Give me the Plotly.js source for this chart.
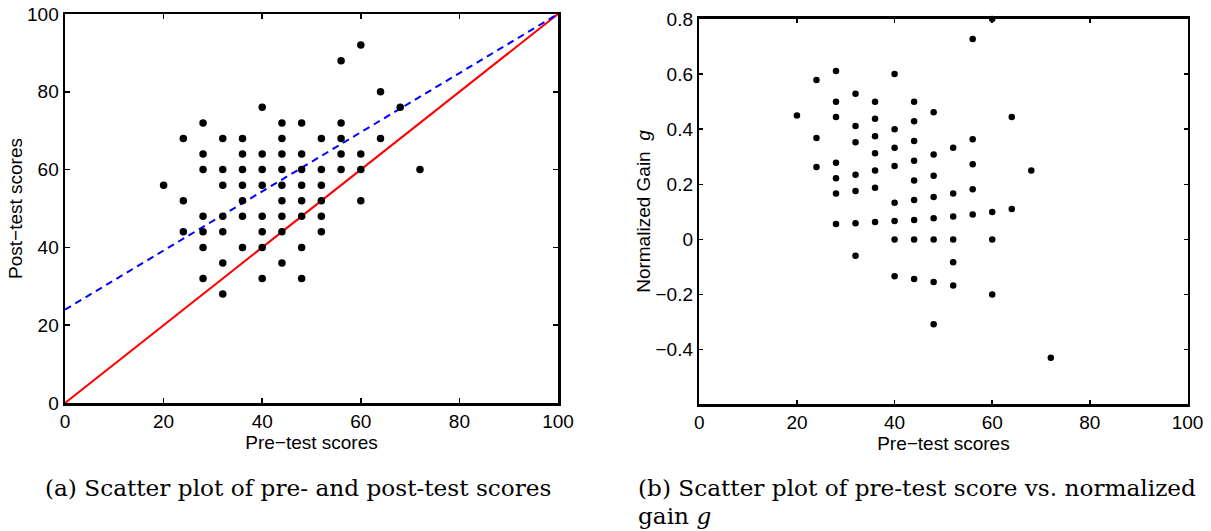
<!DOCTYPE html>
<html>
<head>
<meta charset="utf-8">
<script src="https://cdn.plot.ly/plotly-3.0.1.min.js"></script>
<style>
  html, body { margin: 0; padding: 0; background: #fff; }
  #chart { width: 1211px; height: 531px; }
</style>
</head>
<body>
<div id="chart"></div>
<script>
// ---- Panel (a): pre-test vs post-test scores ----
const preScores = [
  20,
  24, 24, 24,
  28, 28, 28, 28, 28, 28, 28,
  32, 32, 32, 32, 32, 32, 32,
  36, 36, 36, 36, 36, 36, 36,
  40, 40, 40, 40, 40, 40, 40, 40,
  44, 44, 44, 44, 44, 44, 44, 44, 44,
  48, 48, 48, 48, 48, 48, 48, 48,
  52, 52, 52, 52, 52, 52,
  56, 56, 56, 56, 56,
  60, 60, 60, 60,
  64, 64,
  68,
  72
];
const postScores = [
  56,
  68, 52, 44,
  72, 64, 60, 48, 44, 40, 32,
  68, 60, 56, 48, 44, 36, 28,
  68, 64, 60, 56, 52, 48, 40,
  76, 64, 60, 56, 48, 44, 40, 32,
  72, 68, 64, 60, 56, 52, 48, 44, 36,
  72, 64, 60, 56, 52, 48, 40, 32,
  68, 60, 56, 52, 48, 44,
  88, 72, 68, 64, 60,
  92, 64, 60, 52,
  80, 68,
  76,
  60
];
// reference line (post = pre) and dashed line
const equalLineX = [0, 100];
const equalLineY = [0, 100];
const dashedLineX = [0, 100];
const dashedLineY = [24, 100];

// ---- Panel (b): pre-test vs normalized gain g ----
const gainPre = preScores.slice();
const gainValues = [
  0.45,
  0.579, 0.368, 0.263,
  0.611, 0.5, 0.444, 0.278, 0.222, 0.167, 0.056,
  0.529, 0.412, 0.353, 0.235, 0.176, 0.059, -0.059,
  0.5, 0.438, 0.375, 0.313, 0.25, 0.188, 0.063,
  0.6, 0.4, 0.333, 0.267, 0.133, 0.067, 0, -0.133,
  0.5, 0.429, 0.357, 0.286, 0.214, 0.143, 0.071, 0, -0.143,
  0.462, 0.308, 0.231, 0.154, 0.077, 0, -0.154, -0.308,
  0.333, 0.167, 0.083, 0, -0.083, -0.167,
  0.727, 0.364, 0.273, 0.182, 0.091,
  0.8, 0.1, 0, -0.2,
  0.444, 0.111,
  0.25,
  -0.429
];

// tick labels
const xTicks = [0, 20, 40, 60, 80, 100];
const yTicksA = [0, 20, 40, 60, 80, 100];
const yTicksB = [-0.4, -0.2, 0, 0.2, 0.4, 0.6, 0.8];
const yTickTextB = ['\u22120.4', '\u22120.2', '0', '0.2', '0.4', '0.6', '0.8'];

const labels = {
  xA: 'Pre\u2212test scores',
  yA: 'Post\u2212test scores',
  xB: 'Pre\u2212test scores',
  yB: 'Normalized Gain\u00a0\u00a0<i>g</i>',
  capA: '(a) Scatter plot of pre- and post-test scores',
  capB1: '(b) Scatter plot of pre-test score vs. normalized',
  capB2: 'gain <i>g</i>'
};

const sans = '"Liberation Sans", Arial, Helvetica, sans-serif';
const serif = '"DejaVu Serif", "Liberation Serif", serif';

const traces = [
  {
    x: equalLineX, y: equalLineY, xaxis: 'x', yaxis: 'y',
    type: 'scatter', mode: 'lines',
    line: { color: '#ff0000', width: 2 }, hoverinfo: 'skip'
  },
  {
    x: dashedLineX, y: dashedLineY, xaxis: 'x', yaxis: 'y',
    type: 'scatter', mode: 'lines',
    line: { color: '#0000ff', width: 2, dash: '7px,5px' }, hoverinfo: 'skip'
  },
  {
    x: preScores, y: postScores, xaxis: 'x', yaxis: 'y',
    type: 'scatter', mode: 'markers', cliponaxis: false,
    marker: { color: '#000', size: 7.5 }
  },
  {
    x: gainPre, y: gainValues, xaxis: 'x2', yaxis: 'y2',
    type: 'scatter', mode: 'markers', cliponaxis: false,
    marker: { color: '#000', size: 6.5 }
  }
];

const axisCommon = {
  showline: true, linecolor: '#000', linewidth: 2.5, mirror: 'ticks',
  ticks: 'inside', ticklen: 5, tickwidth: 1.5, tickcolor: '#000',
  showgrid: false, zeroline: false, fixedrange: true,
  tickfont: { family: sans, size: 19, color: '#000' },
  automargin: false
};

const layout = {
  width: 1211, height: 531,
  margin: { l: 0, r: 0, t: 0, b: 0 },
  paper_bgcolor: '#fff', plot_bgcolor: '#fff',
  showlegend: false,
  font: { family: sans, color: '#000' },
  xaxis: Object.assign({}, axisCommon, {
    domain: [0.05368, 0.46078], anchor: 'y',
    range: [0, 100], tickvals: xTicks,
    title: { text: labels.xA, font: { family: sans, size: 19 }, standoff: 1 }
  }),
  yaxis: Object.assign({}, axisCommon, {
    domain: [0.24105, 0.97363], anchor: 'x',
    range: [0, 100], tickvals: yTicksA, ticklabelstandoff: 0,
    title: { text: labels.yA, font: { family: sans, size: 19 }, standoff: 0 }
  }),
  xaxis2: Object.assign({}, axisCommon, {
    domain: [0.57746, 0.98060], anchor: 'y2',
    range: [0, 100], tickvals: xTicks, ticklen: 4,
    title: { text: labels.xB, font: { family: sans, size: 19 }, standoff: 1 }
  }),
  yaxis2: Object.assign({}, axisCommon, {
    domain: [0.23917, 0.96422], anchor: 'x2',
    range: [-0.597, 0.8], tickvals: yTicksB, ticktext: yTickTextB, ticklen: 4,
    ticklabelstandoff: 0,
    title: { text: labels.yB, font: { family: sans, size: 19 }, standoff: 0 }
  }),
  annotations: [
    {
      text: labels.capA, xref: 'paper', yref: 'paper',
      x: 298 / 1211, y: 1 - 487 / 531, xanchor: 'center', yanchor: 'middle',
      showarrow: false, font: { family: serif, size: 23.2, color: '#000' }
    },
    {
      text: labels.capB1, xref: 'paper', yref: 'paper',
      x: 636 / 1211, y: 1 - 487 / 531, xanchor: 'left', yanchor: 'middle',
      showarrow: false, font: { family: serif, size: 23.2, color: '#000' }
    },
    {
      text: labels.capB2, xref: 'paper', yref: 'paper',
      x: 636 / 1211, y: 1 - 515 / 531, xanchor: 'left', yanchor: 'middle',
      showarrow: false, font: { family: serif, size: 23.2, color: '#000' }
    }
  ]
};

Plotly.newPlot('chart', traces, layout, { displayModeBar: false, staticPlot: true });
</script>
</body>
</html>
